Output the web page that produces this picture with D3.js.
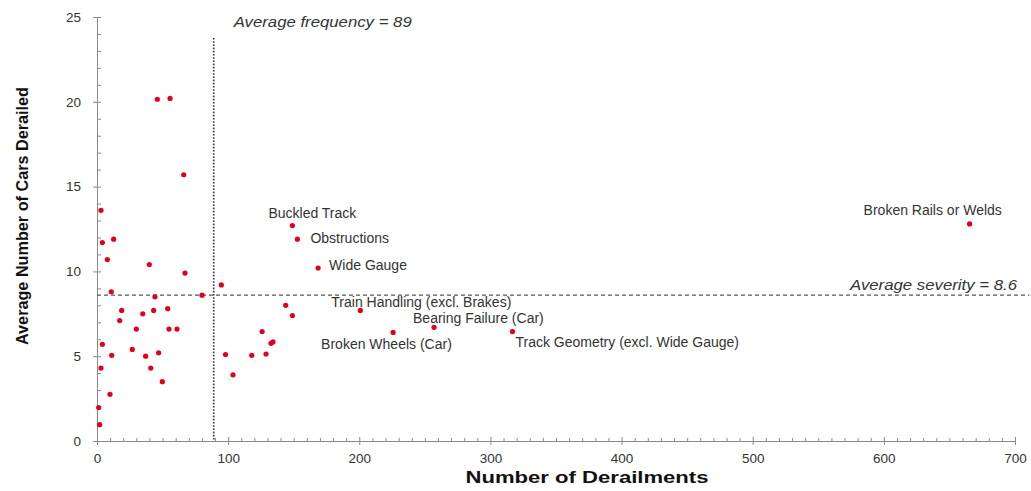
<!DOCTYPE html>
<html>
<head>
<meta charset="utf-8">
<script src="https://cdn.jsdelivr.net/npm/d3@7"></script>
<style>
  body { margin: 0; background: #fff; }
  svg { font-family: "Liberation Sans", Arial, sans-serif; }
  .axis path, .axis line { stroke: #8a8a8a; }
  .axis text { fill: #333; font-size: 13.5px; }
</style>
</head>
<body>
<svg id="chart" width="1031" height="491"></svg>
<script>
// derailment causes: frequency (number of derailments) vs severity (avg cars derailed)
const causeNames = [
  "", "", "", "", "", "", "", "", "", "",
  "", "", "", "", "", "", "", "", "", "",
  "", "", "", "", "", "", "", "", "", "",
  "", "", "", "", "", "", "", "", "", "",
  "",
  "Buckled Track", "Obstructions", "Wide Gauge", "Train Handling (excl. Brakes)",
  "Bearing Failure (Car)", "Broken Wheels (Car)", "Track Geometry (excl. Wide Gauge)",
  "Broken Rails or Welds"
];
const frequency = [
  46, 55.7, 66.1, 3.05, 12.7, 4.1, 7.9, 39.9, 67.1, 94.8,
  10.9, 44.2, 80.1, 18.8, 34.9, 43.2, 53.9, 17.3, 30, 54.9,
  61, 4.1, 26.9, 11.2, 37.1, 47, 3.05, 41, 49.8, 9.9,
  1.3, 2, 98, 118, 103.7, 125.9, 132.7, 134.2, 128.9, 143.9,
  149,
  149, 152.8, 168.6, 200.8, 257, 225.8, 316.8, 665.4
];
const severity = [
  20.15, 20.2, 15.7, 13.6, 11.9, 11.7, 10.7, 10.4, 9.9, 9.2,
  8.8, 8.5, 8.6, 7.7, 7.5, 7.7, 7.8, 7.1, 6.6, 6.6,
  6.6, 5.7, 5.4, 5.05, 5.0, 5.2, 4.3, 4.3, 3.5, 2.75,
  1.97, 0.96, 5.1, 5.05, 3.9, 6.45, 5.76, 5.84, 5.13, 8.0,
  7.4,
  12.7, 11.9, 10.2, 7.7, 6.7, 6.4, 6.45, 12.8
];
const avgFrequency = 89;
const avgSeverity = 8.6;
const xTicks = [0, 100, 200, 300, 400, 500, 600, 700];
const yTicks = [0, 5, 10, 15, 20, 25];

// label offsets from their point (pixels)
const labelOffsets = {
  "Buckled Track": [-24, -13],
  "Obstructions": [13, -1],
  "Wide Gauge": [11, -3],
  "Train Handling (excl. Brakes)": [-29, -8],
  "Bearing Failure (Car)": [-21, -9],
  "Broken Wheels (Car)": [-72, 12],
  "Track Geometry (excl. Wide Gauge)": [3, 10],
  "Broken Rails or Welds": [-106, -14]
};

const svg = d3.select("#chart");
const plotLeft = 97, plotRight = 1015, plotTop = 17, plotBottom = 441;

const x = d3.scaleLinear().domain([0, 700]).range([plotLeft, plotRight]);
const y = d3.scaleLinear().domain([0, 25]).range([plotBottom, plotTop]);

const points = frequency.map((f, i) => ({name: causeNames[i], f: f, s: severity[i]}));

// y axis: outer major ticks with labels, inner minor ticks
svg.append("g").attr("class", "axis")
  .attr("transform", "translate(" + plotLeft + ",0)")
  .call(d3.axisLeft(y).tickValues(yTicks).tickSize(4).tickPadding(12).tickSizeOuter(0));
svg.append("g").attr("class", "axis")
  .attr("transform", "translate(" + plotLeft + ",0)")
  .call(d3.axisRight(y).tickValues(d3.range(0, 26)).tickSize(4).tickSizeOuter(0).tickFormat(""));

// x axis
svg.append("g").attr("class", "axis")
  .attr("transform", "translate(0," + plotBottom + ")")
  .call(d3.axisBottom(x).tickValues(xTicks).tickSize(4).tickPadding(8).tickSizeOuter(0));
svg.append("g").attr("class", "axis")
  .attr("transform", "translate(0," + plotBottom + ")")
  .call(d3.axisTop(x).tickValues(d3.range(0, 701, 10)).tickSize(3).tickSizeOuter(0).tickFormat(""))
  .selectAll(".tick line").attr("y2", d => d % 100 === 0 ? -4 : -3);

// reference lines
svg.append("line")
  .attr("x1", x(avgFrequency)).attr("x2", x(avgFrequency))
  .attr("y1", 38).attr("y2", plotBottom)
  .attr("stroke", "#333").attr("stroke-width", 1.6)
  .attr("stroke-dasharray", "1.6,1.6");
svg.append("line")
  .attr("x1", plotLeft).attr("x2", x(711))
  .attr("y1", y(avgSeverity)).attr("y2", y(avgSeverity))
  .attr("stroke", "#555").attr("stroke-width", 1.2)
  .attr("stroke-dasharray", "4,3");

svg.append("text")
  .attr("x", x(avgFrequency) + 20).attr("y", 21)
  .attr("dominant-baseline", "central")
  .attr("font-style", "italic").attr("font-size", 15).attr("fill", "#333")
  .attr("textLength", 178).attr("lengthAdjust", "spacingAndGlyphs")
  .text("Average frequency = " + avgFrequency);
svg.append("text")
  .attr("x", 1017).attr("y", y(avgSeverity) - 11)
  .attr("text-anchor", "end").attr("dominant-baseline", "central")
  .attr("font-style", "italic").attr("font-size", 15).attr("fill", "#333")
  .attr("textLength", 167).attr("lengthAdjust", "spacingAndGlyphs")
  .text("Average severity = " + avgSeverity);

// points
svg.append("g").selectAll("circle")
  .data(points)
  .join("circle")
  .attr("cx", d => x(d.f))
  .attr("cy", d => y(d.s))
  .attr("r", 2.6)
  .attr("fill", "#e3001b");

// point labels
svg.append("g").selectAll("text")
  .data(points.filter(d => d.name !== ""))
  .join("text")
  .attr("x", d => x(d.f) + labelOffsets[d.name][0])
  .attr("y", d => y(d.s) + labelOffsets[d.name][1])
  .attr("dominant-baseline", "central")
  .attr("font-size", 14)
  .attr("fill", "#333")
  .text(d => d.name);

// axis titles
svg.append("text")
  .attr("x", 587).attr("y", 483)
  .attr("text-anchor", "middle")
  .attr("font-weight", "bold").attr("font-size", 16).attr("fill", "#111")
  .attr("textLength", 243).attr("lengthAdjust", "spacingAndGlyphs")
  .text("Number of Derailments");
svg.append("text")
  .attr("transform", "translate(22,216) rotate(-90)")
  .attr("text-anchor", "middle").attr("dominant-baseline", "central")
  .attr("font-weight", "bold").attr("font-size", 17).attr("fill", "#111")
  .attr("textLength", 258).attr("lengthAdjust", "spacingAndGlyphs")
  .text("Average Number of Cars Derailed");
</script>
</body>
</html>
